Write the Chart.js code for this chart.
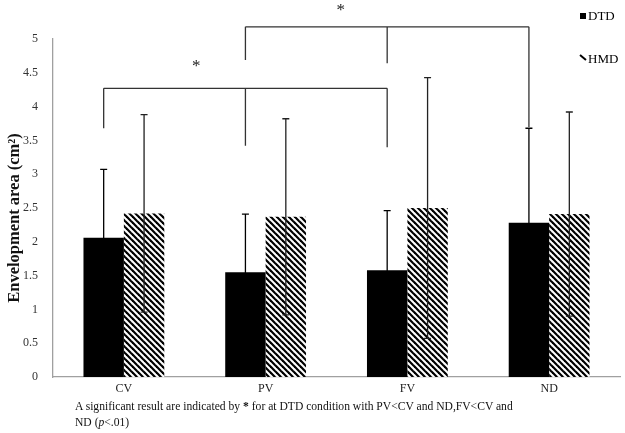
<!DOCTYPE html>
<html>
<head>
<meta charset="utf-8">
<script src="https://cdn.jsdelivr.net/npm/chart.js@4.4.1/dist/chart.umd.min.js"></script>
<style>
  body { margin: 0; background: #fff; }
  #wrap { position: relative; width: 625px; height: 433px; }
  #caption {
    position: absolute; left: 75px; top: 399px;
    font: 11.6px 'Liberation Serif', serif; line-height: 16px; color: #111;
    white-space: nowrap;
  }
</style>
</head>
<body>
<div id="wrap">
  <canvas id="myChart" width="625" height="433"></canvas>
  <div id="caption">A significant result are indicated by <b>*</b> for at DTD condition with PV&lt;CV and ND,FV&lt;CV and<br>ND (<i>p</i>&lt;.01)</div>
</div>
<script>
const categorias = ['CV', 'PV', 'FV', 'ND'];
const mediaDTD = [2.06, 1.55, 1.58, 2.28];
const sdDTD = [1.01, 0.86, 0.88, 1.40];
const mediaHMD = [2.42, 2.37, 2.50, 2.41];
const sdHMD = [1.46, 1.45, 1.93, 1.51];
const ticksY = [0, 0.5, 1, 1.5, 2, 2.5, 3, 3.5, 4, 4.5, 5];
const tituloY = 'Envelopment area (cm²)';

// corchetes de significancia (indices de categoria, nivel y extremos en unidades del eje y)
const corcheteBajoCats = [0, 1, 2];
const corcheteBajoFin = [3.68, 3.42, 3.40];
const corcheteBajoNivel = 4.27;
const corcheteAltoCats = [1, 2, 3];
const corcheteAltoFin = [4.69, 4.64, 3.70];
const corcheteAltoNivel = 5.18;
const estrellasX = [0.51, 1.53];
const estrellasY = [4.64, 5.46];

const serif = "'Liberation Serif', 'Times New Roman', serif";

const crearRayado = () => {
    const s = 6;
    const c = document.createElement('canvas');
    c.width = s; c.height = s;
    const g = c.getContext('2d');
    g.fillStyle = '#fff';
    g.fillRect(0, 0, s, s);
    g.strokeStyle = '#000';
    g.lineWidth = 2.2;
    [-s, 0, s].forEach(k => {
        g.beginPath();
        g.moveTo(k - 1, -1);
        g.lineTo(k + s + 1, s + 1);
        g.stroke();
    });
    return g.createPattern(c, 'repeat');
};

const errores = {
    id: 'errores',
    afterDatasetsDraw(chart) {
        const ctx = chart.ctx;
        const y = chart.scales.y;
        const sds = [sdDTD, sdHMD];
        ctx.save();
        ctx.lineWidth = 1.3;
        chart.data.datasets.forEach((ds, i) => {
            ctx.strokeStyle = i === 0 ? '#000' : '#222';
            chart.getDatasetMeta(i).data.forEach((bar, j) => {
                const m = ds.data[j];
                const top = y.getPixelForValue(m + sds[i][j]);
                const bot = y.getPixelForValue(m - sds[i][j]);
                ctx.beginPath();
                ctx.moveTo(bar.x, top);
                ctx.lineTo(bar.x, bot);
                ctx.moveTo(bar.x - 3.5, top);
                ctx.lineTo(bar.x + 3.5, top);
                ctx.moveTo(bar.x - 3.5, bot);
                ctx.lineTo(bar.x + 3.5, bot);
                ctx.stroke();
            });
        });
        ctx.restore();
    }
};

const corchetes = {
    id: 'corchetes',
    afterDraw(chart) {
        const ctx = chart.ctx;
        const y = chart.scales.y;
        const x = chart.scales.x;
        const barras = chart.getDatasetMeta(0).data;
        const dibujar = (cats, fines, nivel) => {
            const yn = y.getPixelForValue(nivel);
            const xs = cats.map(c => barras[c].x);
            ctx.beginPath();
            ctx.moveTo(xs[0], yn);
            ctx.lineTo(xs[xs.length - 1], yn);
            xs.forEach((xx, k) => {
                ctx.moveTo(xx, yn);
                ctx.lineTo(xx, y.getPixelForValue(fines[k]));
            });
            ctx.stroke();
        };
        ctx.save();
        ctx.strokeStyle = '#333';
        ctx.lineWidth = 1.3;
        dibujar(corcheteBajoCats, corcheteBajoFin, corcheteBajoNivel);
        dibujar(corcheteAltoCats, corcheteAltoFin, corcheteAltoNivel);
        ctx.fillStyle = '#222';
        ctx.font = '17px ' + serif;
        ctx.textAlign = 'center';
        ctx.textBaseline = 'middle';
        estrellasX.forEach((v, k) => {
            ctx.fillText('*', x.getPixelForValue(v), y.getPixelForValue(estrellasY[k]) + 3);
        });

        // titulo del eje y
        ctx.save();
        ctx.translate(15, 218);
        ctx.rotate(-Math.PI / 2);
        ctx.fillStyle = '#111';
        ctx.font = 'bold 16.5px ' + serif;
        ctx.fillText(tituloY, 0, 0);
        ctx.restore();

        // leyenda
        ctx.font = '13px ' + serif;
        ctx.textAlign = 'left';
        ctx.fillStyle = '#000';
        ctx.fillRect(580, 13, 6, 6);
        ctx.fillText(chart.data.datasets[0].label, 588, 17);
        ctx.beginPath();
        ctx.lineWidth = 2;
        ctx.strokeStyle = '#000';
        ctx.moveTo(580, 55);
        ctx.lineTo(586, 60);
        ctx.stroke();
        ctx.fillText(chart.data.datasets[1].label, 588, 60);
        ctx.restore();
    }
};

const ctx = document.getElementById('myChart').getContext('2d');

new Chart(ctx, {
    type: 'bar',
    data: {
        labels: categorias,
        datasets: [
            { label: 'DTD', data: mediaDTD, backgroundColor: '#000', borderWidth: 0 },
            { label: 'HMD', data: mediaHMD, backgroundColor: crearRayado(), borderWidth: 0 }
        ]
    },
    options: {
        responsive: false,
        animation: false,
        categoryPercentage: 0.57,
        barPercentage: 1.0,
        layout: { padding: { top: 39, right: 5, bottom: 34, left: 0 } },
        plugins: { legend: { display: false }, tooltip: { enabled: false } },
        scales: {
            x: {
                grid: { display: false, tickLength: 0 },
                border: { color: '#a0a0a0', width: 1.3 },
                ticks: { color: '#222', font: { family: serif, size: 12 }, padding: 5 },
                afterFit: s => { s.height = 22; }
            },
            y: {
                min: 0,
                max: 5,
                grid: { display: false, tickLength: 0 },
                border: { color: '#a0a0a0', width: 1.3 },
                afterBuildTicks: s => { s.ticks = ticksY.map(v => ({ value: v })); },
                ticks: {
                    color: '#333',
                    font: { family: serif, size: 12 },
                    padding: 15,
                    callback: v => String(v)
                },
                afterFit: s => { s.width = 53; }
            }
        }
    },
    plugins: [errores, corchetes]
});
</script>
</body>
</html>
